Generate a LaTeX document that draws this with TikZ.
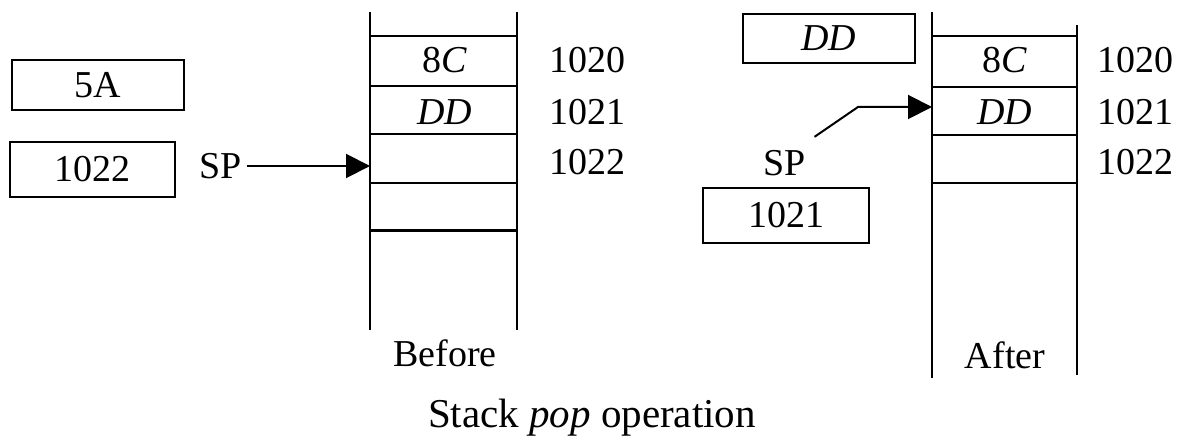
\documentclass[tikz,border=0pt]{standalone}
\usepackage{fontspec}
\setmainfont{Liberation Serif}
\usetikzlibrary{arrows.meta}

\begin{document}
\begin{tikzpicture}[
  x=0.5pt, y=-0.5pt, inner sep=2pt,
  font=\fontsize{19}{21}\selectfont, >={Triangle[length=12pt,width=12pt]},
  wall/.style={line width=1pt},
  reg/.style={draw, line width=1pt, inner sep=0pt},
  arr/.style={->, line width=1pt},
]
\useasboundingbox (0,0) rectangle (1191,443);

% before
\node[reg, minimum width=86pt, minimum height=25pt] (b5a) at (98,85) {5A};
\node[reg, minimum width=82.5pt, minimum height=27.5pt] (bsp_reg) at (92.5,169.5) {1022};
\node (bsp) at (221,166) {SP};
\coordinate (btop) at (370,166);

\draw[wall] (370,12) -- (370,330);
\draw[wall] (517,12) -- (517,330);
\foreach \y in {36,86,134,183}
  \draw[wall] (370,\y) -- (517,\y);
\draw[line width=1.5pt] (370,231) -- (517,231);

\node (b8c) at (445,60) {8\textit{C}};
\node (bdd) at (445,112) {\textit{DD}};
\node (ba0) at (587,60) {1020};
\node (ba1) at (587,112) {1021};
\node (ba2) at (587,162) {1022};
\node (bef) at (445,353) {Before};

\draw[arr] (bsp) -- (btop);

% after
\node[reg, minimum width=86pt, minimum height=24.5pt] (add) at (829,38.5) {\textit{DD}};
\node (asp) at (785,163) {SP};
\node[reg, minimum width=83pt, minimum height=27.5pt] (asp_reg) at (786,215.5) {1021};
\coordinate (abend) at (858,107);
\coordinate (atop) at (932,107);

\draw[wall] (932,12) -- (932,378);
\draw[wall] (1077,25) -- (1077,375);
\foreach \y in {36,87,135,183}
  \draw[wall] (932,\y) -- (1077,\y);

\node (a8c) at (1005,60) {8\textit{C}};
\node (add2) at (1005,112) {\textit{DD}};
\node (aa0) at (1135,60) {1020};
\node (aa1) at (1135,112) {1021};
\node (aa2) at (1135,162) {1022};
\node (aft) at (1005,355) {After};

\draw[arr] ([shift={(4,-9)}]asp.north east) -- (abend) -- (atop);

\node[font=\fontsize{20.5}{22}\selectfont] (cap) at (592,418) {Stack \textit{pop} operation};
\end{tikzpicture}
\end{document}
